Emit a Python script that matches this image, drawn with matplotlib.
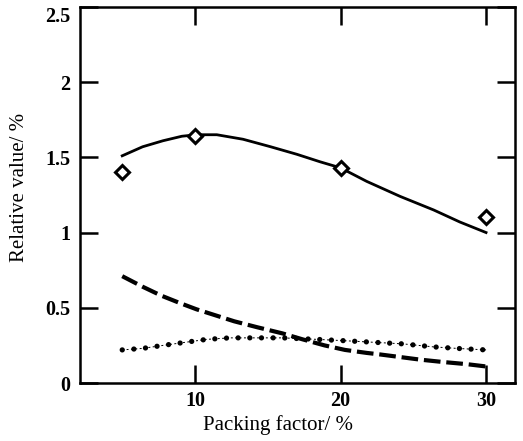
import matplotlib
matplotlib.use('Agg')
import matplotlib.pyplot as plt

# measured points (diamonds)
pf_pts = [5, 10, 20, 30]
rel_pts = [1.40, 1.64, 1.43, 1.10]

# fitted curve
solid_x = [5.0, 6.4, 7.8, 9.1, 10.1, 11.5, 13.3, 15.2, 17.0, 18.6, 20.0, 21.8, 24.1, 26.4, 28.2, 30.0]
solid_y = [1.51, 1.57, 1.61, 1.64, 1.65, 1.65, 1.62, 1.57, 1.52, 1.47, 1.43, 1.34, 1.24, 1.15, 1.07, 1.00]

# long dashed curve
dash_x = [5.0, 6.4, 7.7, 9.0, 10.1, 11.4, 12.7, 14.3, 16.0, 17.4, 18.9, 20.3, 21.8, 22.7, 24.3, 25.5, 27.0, 28.7, 30.0]
dash_y = [0.71, 0.64, 0.58, 0.53, 0.49, 0.45, 0.41, 0.37, 0.33, 0.29, 0.25, 0.22, 0.20, 0.19, 0.17, 0.155, 0.14, 0.125, 0.11]

# dotted curve
dot_x = [5.0, 6.4, 7.8, 9.3, 10.8, 12.4, 14.0, 16.0, 18.4, 20.5, 22.4, 24.3, 26.4, 28.0, 30.0]
dot_y = [0.22, 0.23, 0.25, 0.27, 0.29, 0.30, 0.30, 0.30, 0.29, 0.28, 0.27, 0.26, 0.24, 0.23, 0.22]

yticks = [0, 0.5, 1, 1.5, 2, 2.5]
ytick_labels = ['0', '0.5', '1', '1.5', '2', '2.5']

plt.rcParams['font.family'] = ['Liberation Serif', 'DejaVu Serif']

fig = plt.figure(figsize=(5.23, 4.41), dpi=100)
ax = fig.add_axes([0.153, 0.1315, 0.832, 0.853])

ax.plot(solid_x, solid_y, color='black', lw=2.0)
ax.plot(dash_x, dash_y, color='black', lw=3.0, linestyle=(0, (4.0, 1.4)))
ax.plot(dot_x, dot_y, color='black', lw=0.7, linestyle=(0, (2, 2.5)))
ax.plot(dot_x, dot_y, color='black', lw=3.8, linestyle=(0, (0.01, 2.2)),
        dash_capstyle='round')
ax.plot(pf_pts, rel_pts, linestyle='none', marker='D', markersize=6.8,
        markerfacecolor='white', markeredgecolor='black', markeredgewidth=2.2)

ax.set_xlim(2.1, 32.0)
ax.set_ylim(0, 2.5)
ax.set_xticks([10, 20, 30])
ax.set_yticks(yticks)
ax.set_yticklabels(ytick_labels)
ax.tick_params(direction='in', length=13, width=1.8, top=True, right=True,
               labelsize=14.5)
ax.tick_params(axis='x', pad=6)
ax.tick_params(axis='y', pad=7)
for lab in ax.get_xticklabels() + ax.get_yticklabels():
    lab.set_fontweight('bold')
ax.get_yticklabels()[-1].set_va('top')
for sp in ax.spines.values():
    sp.set_linewidth(1.8)

ax.set_xlabel('Packing factor/ %', fontsize=15)
ax.set_ylabel('Relative value/ %', fontsize=15)
ax.xaxis.set_label_coords(0.454, -0.084)
ax.yaxis.set_label_coords(-0.117, 0.519)

fig.savefig('out.png', dpi=100)
